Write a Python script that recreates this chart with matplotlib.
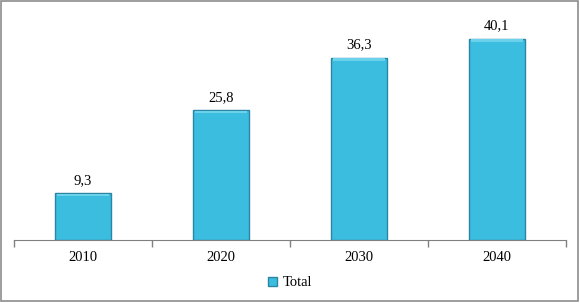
import matplotlib.pyplot as plt
from matplotlib.patches import Rectangle

years = ['2010', '2020', '2030', '2040']
total = [9.3, 25.8, 36.3, 40.1]
labels = ['9,3', '25,8', '36,3', '40,1']

plt.rcParams['font.family'] = ['Liberation Serif', 'DejaVu Serif']

fig = plt.figure(figsize=(5.8, 3.03), dpi=100)
ax = fig.add_axes([14/580, 1 - 240/303, 552/580, 226/303])

x = range(len(years))
bars = ax.bar(x, total, width=0.4, color='#3bbde0', edgecolor='#2a86a3',
              linewidth=1.0, label='Total')
# lighter top strip for the bevel look
ax.bar(x, [0.5] * 4, bottom=[v - 0.6 for v in total], width=0.37,
       color='#6cd2ec', linewidth=0)

for i, v in enumerate(total):
    ax.text(i, v + 1.3, labels[i], ha='center', va='bottom', fontsize=10.5)

ax.set_xlim(-0.5, 3.5)
ax.set_ylim(0, 45)
ax.set_yticks([])
ax.set_xticks([-0.5, 0.5, 1.5, 2.5, 3.5], minor=False)
ax.set_xticklabels([])
ax.set_xticks(list(x), minor=True)
ax.set_xticklabels(years, minor=True, fontsize=10.5)
ax.tick_params(axis='x', which='major', length=5, color='#808080', width=1)
ax.tick_params(axis='x', which='minor', length=0, pad=8)
for s in ['top', 'right', 'left']:
    ax.spines[s].set_visible(False)
ax.spines['bottom'].set_color('#808080')

ax.legend(handles=[bars], loc='center', bbox_to_anchor=(0.5, -0.19),
          frameon=False, fontsize=10.5, handlelength=0.6, handleheight=0.6,
          handletextpad=0.4)

fig.patches.append(Rectangle((0.002, 0.006), 0.994, 0.99, transform=fig.transFigure,
                             fill=False, edgecolor='#8c8c8c', linewidth=1.2))

fig.savefig('out.png', dpi=100)
